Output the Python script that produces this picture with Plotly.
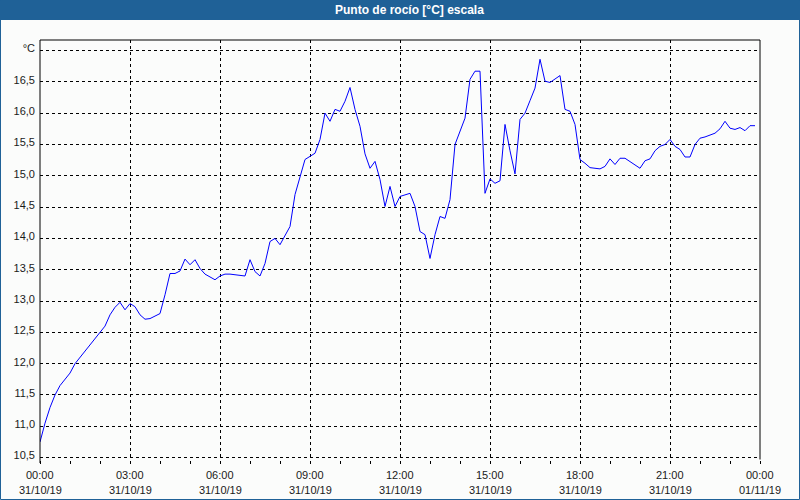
import plotly.graph_objects as go
import pandas as pd

# ---- data (10-minute samples, 31/10/19) ----
times = pd.date_range("2019-10-31 00:00", periods=144, freq="10min")
dew_point = [
    10.75, 11.05, 11.30, 11.50, 11.65, 11.75, 11.85, 12.00, 12.10, 12.20, 12.30, 12.40,
    12.50, 12.60, 12.78, 12.90, 12.98, 12.86, 12.96, 12.91, 12.78, 12.71, 12.72, 12.76,
    12.80, 13.10, 13.44, 13.44, 13.48, 13.67, 13.58, 13.66, 13.52, 13.43, 13.38, 13.34,
    13.40, 13.43, 13.43, 13.42, 13.42, 13.40, 13.66, 13.47, 13.40, 13.60, 13.95, 14.00,
    13.90, 14.05, 14.19, 14.70, 15.00, 15.26, 15.31, 15.36, 15.58, 16.00, 15.87, 16.06,
    16.03, 16.19, 16.41, 16.06, 15.79, 15.35, 15.12, 15.23, 14.94, 14.51, 14.83, 14.51,
    14.67, 14.70, 14.72, 14.51, 14.11, 14.06, 13.68, 14.06, 14.35, 14.32, 14.62, 15.50,
    15.72, 15.92, 16.54, 16.67, 16.67, 14.72, 14.95, 14.88, 14.92, 15.82, 15.40, 15.03,
    15.90, 16.00, 16.20, 16.40, 16.86, 16.51, 16.49, 16.55, 16.60, 16.06, 16.03, 15.82,
    15.26, 15.20, 15.13, 15.12, 15.11, 15.15, 15.27, 15.18, 15.28, 15.28, 15.23, 15.18,
    15.12, 15.24, 15.27, 15.40, 15.47, 15.50, 15.58, 15.47, 15.42, 15.30, 15.30, 15.50,
    15.60, 15.62, 15.65, 15.68, 15.75, 15.87, 15.76, 15.74, 15.77, 15.72, 15.80, 15.80,
]

x_tick_vals = ["2019-10-31 00:00", "2019-10-31 03:00", "2019-10-31 06:00", "2019-10-31 09:00",
               "2019-10-31 12:00", "2019-10-31 15:00", "2019-10-31 18:00", "2019-10-31 21:00",
               "2019-11-01 00:00"]
x_time_labels = ["00:00", "03:00", "06:00", "09:00", "12:00", "15:00", "18:00", "21:00", "00:00"]
x_date_labels = ["31/10/19", "31/10/19", "31/10/19", "31/10/19", "31/10/19", "31/10/19",
                 "31/10/19", "31/10/19", "01/11/19"]
y_tick_vals = [10.5, 11.0, 11.5, 12.0, 12.5, 13.0, 13.5, 14.0, 14.5, 15.0, 15.5, 16.0, 16.5, 17.0]
y_tick_text = ["10,5", "11,0", "11,5", "12,0", "12,5", "13,0", "13,5", "14,0", "14,5", "15,0",
               "15,5", "16,0", "16,5", "°C"]
title_text = "Punto de rocío [°C] escala"

# ---- geometry helpers (pixel -> paper) ----
W, H = 800, 500
L, R, T, B = 40, 40, 40, 40
PW, PH = W - L - R, H - T - B
def px(x):
    return (x - L) / PW
def py(y):
    return (H - B - y) / PH

BLUE = "#1f6197"
BG = "#fbfcfb"
FONT = "Liberation Sans"
TXT = "#1a1a1a"

fig = go.Figure()
fig.add_trace(go.Scatter(x=times, y=dew_point, mode="lines",
                         line=dict(color="#0000ff", width=1), hoverinfo="skip"))

fig.update_layout(
    width=W, height=H,
    margin=dict(l=L, r=R, t=T, b=B),
    paper_bgcolor=BG, plot_bgcolor=BG,
    showlegend=False,
    font=dict(family=FONT, size=11, color=TXT),
    xaxis=dict(
        range=["2019-10-31 00:00", "2019-11-01 00:00"],
        tickmode="array", tickvals=x_tick_vals, showticklabels=False,
        ticks="outside", ticklen=3, tickcolor="#000", tickwidth=1,
        showgrid=True, gridcolor="#000", gridwidth=1, griddash="3px,3px",
        showline=False, zeroline=False, automargin=False,
        minor=dict(tickmode="linear", tick0="2019-10-31 00:00", dtick=3600000,
                   ticks="outside", ticklen=3, tickcolor="#000", showgrid=False),
        fixedrange=True,
    ),
    yaxis=dict(
        range=[10.462, 17.168],
        tickmode="array", tickvals=y_tick_vals, ticktext=y_tick_text,
        ticks="", showgrid=True, gridcolor="#000", gridwidth=1, griddash="3px,3px",
        showline=False, zeroline=False, ticklabelstandoff=4, ticklabelshift=-2,
        automargin=False,
        tickfont=dict(family=FONT, size=11, color=TXT),
        fixedrange=True,
    ),
)

shapes = [
    # plot frame: left (extends slightly below), top, right
    dict(type="line", xref="paper", yref="paper", x0=0, x1=0, y0=py(463), y1=1,
         line=dict(color="#000", width=1)),
    dict(type="line", xref="paper", yref="paper", x0=0, x1=1, y0=1, y1=1,
         line=dict(color="#000", width=1)),
    dict(type="line", xref="paper", yref="paper", x0=1, x1=1, y0=py(459.5), y1=1,
         line=dict(color="#000", width=1)),
    # title bar
    dict(type="rect", xref="paper", yref="paper", x0=px(0), x1=px(800), y0=py(20), y1=py(0),
         fillcolor=BLUE, line=dict(width=0), layer="above"),
    # outer window border
    dict(type="rect", xref="paper", yref="paper", x0=px(0.5), x1=px(799.5), y0=py(499.5), y1=py(0.5),
         line=dict(color=BLUE, width=1), fillcolor="rgba(0,0,0,0)", layer="above"),
]
fig.update_layout(shapes=shapes)

# x-axis labels (two lines under each major tick)
for xv, tl, dl in zip(x_tick_vals, x_time_labels, x_date_labels):
    fig.add_annotation(text=tl, xref="x", yref="paper", x=xv, y=py(475),
                       xanchor="center", yanchor="middle", showarrow=False,
                       font=dict(family=FONT, size=11, color=TXT))
    fig.add_annotation(text=dl, xref="x", yref="paper", x=xv, y=py(490),
                       xanchor="center", yanchor="middle", showarrow=False,
                       font=dict(family=FONT, size=11, color=TXT))

fig.add_annotation(text="<b>" + title_text + "</b>", xref="paper", yref="paper",
                   x=px(410), y=py(10), xanchor="center", yanchor="middle", showarrow=False,
                   font=dict(family=FONT, size=12, color="#ffffff"))

fig.write_html("out.html")
